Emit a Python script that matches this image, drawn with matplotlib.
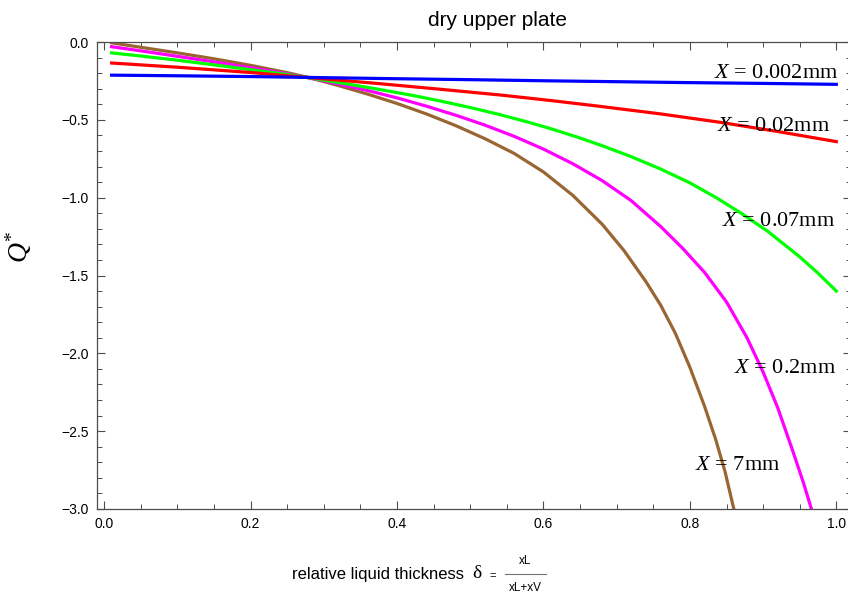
import numpy as np
import matplotlib.pyplot as plt
from matplotlib.ticker import MultipleLocator, FixedFormatter, FixedLocator

plt.rcParams['font.family'] = ['Liberation Sans', 'DejaVu Sans']
plt.rcParams['mathtext.fontset'] = 'custom'
plt.rcParams['mathtext.it'] = 'Liberation Serif:italic'
plt.rcParams['mathtext.rm'] = 'Liberation Serif'

# values (delta, Q*)
x_blue = [0.01, 0.1, 0.2, 0.3, 0.4, 0.5, 0.6, 0.7, 0.8, 0.9, 1.0]
y_blue = [-0.213, -0.217, -0.222, -0.229, -0.236, -0.242, -0.249, -0.255, -0.261, -0.266, -0.272]

x_red = [0.01, 0.1, 0.2, 0.28, 0.37, 0.46, 0.54, 0.61, 0.68, 0.76, 0.84, 0.92, 1.0]
y_red = [-0.135, -0.162, -0.196, -0.229, -0.265, -0.304, -0.340, -0.376, -0.415, -0.462, -0.515, -0.575, -0.640]

x_green = [0.01, 0.05, 0.1, 0.15, 0.2, 0.25, 0.28, 0.33, 0.37, 0.42, 0.46, 0.5, 0.54, 0.58,
           0.61, 0.645, 0.68, 0.72, 0.76, 0.8, 0.837, 0.87, 0.906, 0.95, 0.975, 1.0]
y_green = [-0.070, -0.090, -0.117, -0.147, -0.178, -0.209, -0.230, -0.268, -0.300, -0.342,
           -0.380, -0.421, -0.466, -0.516, -0.557, -0.609, -0.666, -0.737, -0.816, -0.905,
           -1.003, -1.100, -1.215, -1.380, -1.485, -1.600]

x_magenta = [0.01, 0.05, 0.1, 0.15, 0.2, 0.25, 0.28, 0.32, 0.36, 0.40, 0.44, 0.48, 0.52, 0.56,
             0.60, 0.64, 0.68, 0.72, 0.76, 0.79, 0.82, 0.85, 0.878, 0.9, 0.92, 0.94, 0.955, 0.966]
y_magenta = [-0.030, -0.057, -0.092, -0.128, -0.165, -0.205, -0.231, -0.270, -0.312, -0.359,
             -0.412, -0.470, -0.534, -0.606, -0.688, -0.782, -0.890, -1.020, -1.185, -1.325,
             -1.480, -1.670, -1.900, -2.120, -2.350, -2.620, -2.830, -3.000]

x_brown = [0.01, 0.05, 0.1, 0.15, 0.2, 0.25, 0.28, 0.32, 0.36, 0.40, 0.44, 0.48, 0.52, 0.56,
           0.60, 0.64, 0.68, 0.71, 0.74, 0.76, 0.78, 0.80, 0.82, 0.835, 0.848, 0.86]
y_brown = [-0.005, -0.034, -0.070, -0.108, -0.150, -0.197, -0.229, -0.280, -0.335, -0.395,
           -0.462, -0.537, -0.621, -0.716, -0.835, -0.985, -1.170, -1.340, -1.540, -1.690,
           -1.870, -2.090, -2.340, -2.550, -2.760, -3.000]

labels = ['$X$ = 0.002mm', '$X$ = 0.02mm', '$X$ = 0.07mm', '$X$ = 0.2mm', '$X$ = 7mm']
label_x = [1.003, 0.991, 0.999, 0.999, 0.923]
label_y = [-0.205, -0.540, -1.150, -2.100, -2.720]

W, H = 848, 594
fig = plt.figure(figsize=(W / 100, H / 100), dpi=100)
ax = fig.add_axes([97.1 / W, 1 - 509 / H, (850.8 - 97.1) / W, (509 - 42) / H])

lw = 2.3
ax.plot(x_brown, y_brown, color=(0.6, 0.4, 0.2), lw=lw, zorder=2)
ax.plot(x_magenta, y_magenta, color=(1, 0, 1), lw=lw, zorder=2)
ax.plot(x_green, y_green, color=(0, 1, 0), lw=lw, zorder=2)
ax.plot(x_red, y_red, color=(1, 0, 0), lw=lw, zorder=2)
ax.plot(x_blue, y_blue, color=(0, 0, 1), lw=lw, zorder=2)

for t, lx, ly in zip(labels, label_x, label_y):
    ax.text(lx, ly, t, ha='right', va='center', fontsize=16,
            family='Liberation Serif', zorder=5)

ax.set_xlim(-0.0098, 1.0198)
ax.set_ylim(-3.0, 0.0)

ax.xaxis.set_major_locator(FixedLocator([0.0, 0.2, 0.4, 0.6, 0.8, 1.0]))
ax.xaxis.set_major_formatter(FixedFormatter(['0.0', '0.2', '0.4', '0.6', '0.8', '1.0']))
ax.xaxis.set_minor_locator(MultipleLocator(0.05))
ax.yaxis.set_major_locator(MultipleLocator(0.5))
ax.yaxis.set_major_formatter(plt.FuncFormatter(lambda v, p: f'{v:.1f}'.replace('-', '\u2212')))
ax.yaxis.set_minor_locator(MultipleLocator(0.1))

ax.tick_params(which='both', direction='in', top=True, right=True, color='0.3', labelsize=10, pad=6)
ax.tick_params(which='major', length=6, width=0.8)
ax.tick_params(which='minor', length=3.5, width=0.7)
for s in ax.spines.values():
    s.set_color('0.3')
    s.set_linewidth(0.9)

def px(x, y):
    return x / W, 1 - y / H

fig.text(*px(497, 21), 'dry upper plate', ha='center', va='center', fontsize=15)
fig.text(*px(19, 247), '$Q^{*}$', rotation=90, ha='center', va='center', fontsize=20)

fig.text(*px(292, 575), 'relative liquid thickness', ha='left', va='center', fontsize=12)
fig.text(*px(477, 574), 'δ', ha='center', va='center', fontsize=14, family='Liberation Serif')
fig.text(*px(493, 576), '=', ha='center', va='center', fontsize=8)
fig.text(*px(525, 561), 'xL', ha='center', va='center', fontsize=8.5)
fig.text(*px(525, 588), 'xL+xV', ha='center', va='center', fontsize=8.5)
fig.add_artist(plt.Line2D([505 / W, 546 / W], [1 - 574 / H, 1 - 574 / H],
                          transform=fig.transFigure, color='0.45', lw=0.8))

fig.savefig('out.png', dpi=100)
